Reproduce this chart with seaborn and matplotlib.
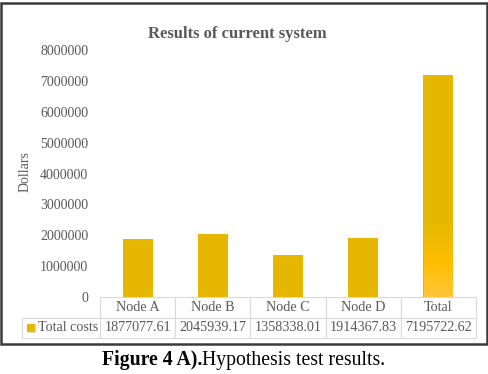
import matplotlib
matplotlib.use("Agg")
import matplotlib.pyplot as plt
import seaborn as sns
import pandas as pd
import numpy as np
from matplotlib.patches import Rectangle
from matplotlib.colors import LinearSegmentedColormap

categories = ["Node A", "Node B", "Node C", "Node D", "Total"]
total_costs = [1877077.61, 2045939.17, 1358338.01, 1914367.83, 7195722.62]
value_labels = ["1877077.61", "2045939.17", "1358338.01", "1914367.83", "7195722.62"]
yticks = [0, 1000000, 2000000, 3000000, 4000000, 5000000, 6000000, 7000000, 8000000]
series_name = "Total costs"

sns.set_style("white")
plt.rcParams['font.family'] = ['Liberation Serif', 'DejaVu Serif']

W, H = 489, 374
fig = plt.figure(figsize=(W / 100, H / 100), dpi=100)
ax = fig.add_axes([100 / W, (H - 297) / H, 376 / W, 247 / H])

gold = "#E5B700"
grey = "#595959"
df = pd.DataFrame({"cat": categories, "val": total_costs})
sns.barplot(data=df, x="cat", y="val", color=gold, width=0.4, ax=ax,
            saturation=1, linewidth=0)

# subtle lighter gradient at the bottom of the Total bar
bar = ax.patches[-1]
bx, bw, bh = bar.get_x(), bar.get_width(), bar.get_height()
cmap = LinearSegmentedColormap.from_list("g", [(0, "#FFC53A"), (0.45, "#FFBE00"), (0.8, "#EDB900"), (1, gold)])
grad = np.linspace(1, 0, 256).reshape(-1, 1)
inset = bw * 0.03
im = ax.imshow(grad, cmap=cmap, aspect='auto',
               extent=[bx + inset, bx + bw - inset, 0, bh * 0.35],
               origin='upper', zorder=bar.get_zorder() + 0.1, interpolation='bilinear')
im.set_clip_path(bar.get_path(), bar.get_transform())
ax.set_xlim(-0.5, 4.5)

ax.set_ylim(0, 8000000)
ax.set_yticks(yticks)
ax.set_yticklabels([str(v) for v in yticks], fontsize=10, color=grey)
ax.tick_params(axis='y', length=0, pad=8.5)
ax.set_xticks([])
ax.set_xlabel("")
ax.set_ylabel("")
fig.text(25 / W, (H - 172) / H, "Dollars", fontsize=10, color=grey, rotation=90,
         ha='center', va='center')
for s in ax.spines.values():
    s.set_visible(False)

# data table below the plot
tbl = ax.table(cellText=[[series_name] + value_labels],
               colLabels=[""] + categories,
               colWidths=[78] + [75.2] * 5,
               cellLoc='center',
               bbox=[(22 - 100) / 376, (297 - 338) / 247, 454 / 376, 41 / 247])
tbl.auto_set_font_size(False)
for (r, c), cell in tbl.get_celld().items():
    cell.set_edgecolor("#D9D9D9")
    cell.set_linewidth(0.8)
    cell.get_text().set_fontsize(10.2)
    cell.get_text().set_color(grey)
    if r == 0 and c == 0:
        cell.visible_edges = ''
    if r == 1 and c == 0:
        cell.get_text().set_ha('right')
        cell._loc = 'right'
        cell.PAD = 0.02

fig.text(26 / W, (H - 328) / H, "■", color=gold, fontsize=8, ha='left', va='center',
         family='DejaVu Sans')

fig.text(237 / W, (H - 34) / H, "Results of current system", fontsize=12,
         fontweight='bold', color=grey, ha='center', va='center')

# chart border
fig.add_artist(Rectangle((1 / W, (H - 344) / H), 486 / W, 341 / H, transform=fig.transFigure,
                         fill=False, edgecolor="#3A3A3A", linewidth=1.8))

fig.text(202 / W, (H - 360) / H, "Figure 4 A).", fontsize=14.2, fontweight='bold',
         color='black', ha='right', va='center')
fig.text(202 / W, (H - 360) / H, "Hypothesis test results.", fontsize=14.2,
         color='black', ha='left', va='center')

fig.savefig("out.png", dpi=100)
